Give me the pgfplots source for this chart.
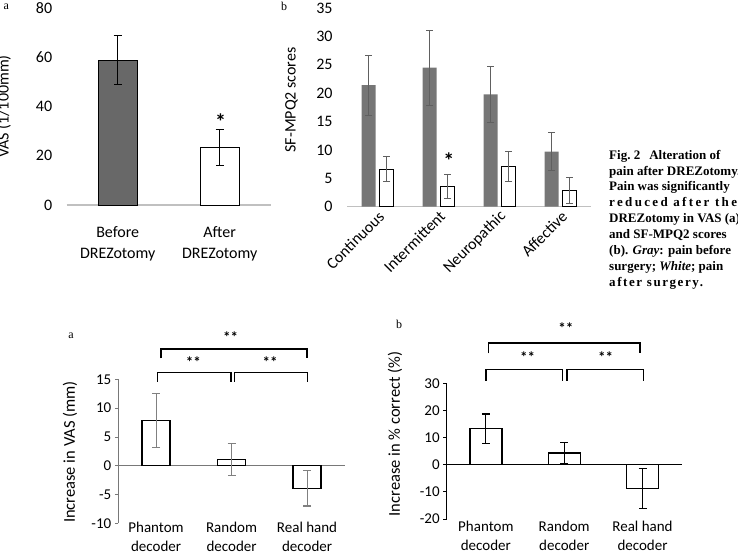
\documentclass[border=0pt]{standalone}
\usepackage{pgfplots}
\usepackage{pgfplotstable}
\pgfplotsset{compat=1.18}
\usepackage{fontspec}
\setmainfont{Carlito}
\newfontfamily\capfont{Liberation Serif}

\definecolor{darkbar}{RGB}{104,104,104}
\definecolor{midbar}{RGB}{118,118,118}
\definecolor{baseln}{RGB}{192,192,192}
\definecolor{errgray}{RGB}{128,128,128}
\definecolor{axgray}{RGB}{120,120,120}

% SF-MPQ2 subscales: mean and error, before / after surgery
\pgfplotstableread{
x  before eb    after ea
1  21.4   5.3   6.6   2.2
2  24.5   6.6   3.6   2.1
3  19.8   4.95  7.1   2.65
4  9.7    3.35  2.8   2.3
}\mpqdata

\pgfplotsset{
  panel/.style={scale only axis, anchor=south west, clip=false,
    /pgf/number format/assume math mode=true,
    axis line style={-}, xtick style={draw=none}},
  errs/.style n args={3}{error bars/.cd, y dir=both, y explicit,
    error bar style={#1, line width=#2},
    error mark options={#1, line width=#2, mark size=#3, rotate=90}},
}
\tikzset{
  caplines/.style={anchor=base west, inner sep=0pt,
    font=\capfont\bfseries\fontsize{13}{16}\selectfont},
  brk/.style={line width=1.6pt, black},
  stars/.style={inner sep=0pt, font=\bfseries\fontsize{15}{15}\selectfont},
}

\begin{document}
\begin{tikzpicture}

% ---------- VAS before / after DREZotomy ----------
\begin{axis}[panel,
  at={(66.7pt,-205pt)}, width=204pt, height=197pt,
  xmin=0.5, xmax=2.5, ymin=0, ymax=80,
  xtick={1,2}, xticklabels={Before\\DREZotomy,After\\DREZotomy},
  ytick={0,20,40,60,80},
  axis x line*=bottom, axis y line*=left,
  x axis line style={draw=baseln, line width=2pt},
  y axis line style={draw=none},
  major tick length=0pt,
  ticklabel style={font=\fontsize{16}{21}\selectfont},
  xticklabel style={align=center, yshift=-18pt},
  yticklabel style={xshift=-11pt},
]
\addplot[ybar, bar width=39pt, fill=darkbar, draw=black, line width=0.9pt,
  errs={black}{0.9pt}{4pt}]
  coordinates {(1,58.9) +- (0,9.8)};
\addplot[ybar, bar width=39pt, fill=white, draw=black, line width=0.9pt,
  errs={black}{0.9pt}{4pt}]
  coordinates {(2,23.4) +- (0,7.3)};
\node[inner sep=0pt, font=\bfseries\fontsize{22}{22}\selectfont] at (axis cs:2.01,34.0) {*};
\end{axis}

% ---------- SF-MPQ2 subscales ----------
\begin{axis}[panel,
  at={(347pt,-206.7pt)}, width=244pt, height=198.7pt,
  xmin=0.5, xmax=4.5, ymin=0, ymax=35,
  xtick={1,2,3,4}, xticklabels={Continuous,Intermittent,Neuropathic,Affective},
  ytick={0,5,...,35},
  axis x line*=bottom, axis y line*=left,
  x axis line style={draw=baseln, line width=1.5pt},
  y axis line style={draw=none},
  major tick length=0pt,
  ticklabel style={font=\fontsize{16}{19}\selectfont},
  xticklabel style={inner sep=0pt, xshift=4pt, yshift=-7pt, rotate=45, anchor=east},
  yticklabel style={xshift=-11pt},
]
\addplot[ybar, bar width=14pt, bar shift=0pt, fill=midbar, draw=none,
  errs={errgray!75!black}{0.9pt}{3.5pt}]
  table[x expr=\thisrow{x}-0.1475, y=before, y error=eb]{\mpqdata};
\addplot[ybar, bar width=14pt, bar shift=0pt, fill=white, draw=black, line width=0.9pt,
  errs={errgray!75!black}{0.9pt}{3.5pt}]
  table[x expr=\thisrow{x}+0.1475, y=after, y error=ea]{\mpqdata};
\node[inner sep=0pt, font=\bfseries\fontsize{22}{22}\selectfont] at (axis cs:2.17,8.2) {*};
\end{axis}

% ---------- VAS change by decoder ----------
\begin{axis}[panel,
  at={(118.3pt,-523.3pt)}, width=226.5pt, height=144pt,
  xmin=0.5, xmax=3.5, ymin=-10, ymax=15,
  xtick={1,2,3}, xticklabels={Phantom\\decoder,Random\\decoder,Real hand\\decoder},
  ytick={-10,-5,...,15},
  axis x line*=bottom, axis y line*=left,
  x axis line style={draw=none},
  y axis line style={draw=axgray, line width=0.8pt},
  ytick style={draw=axgray, line width=0.8pt},
  tick align=outside, major tick length=3.5pt,
  ticklabel style={font=\fontsize{15}{19}\selectfont},
  xticklabel style={align=center, yshift=8pt},
]
\draw[axgray, line width=0.8pt] (axis cs:0.5,0) -- (axis cs:3.5,0);
\addplot[ybar, bar width=28pt, fill=white, draw=black, line width=1.3pt,
  errs={errgray}{1.1pt}{4pt}]
  coordinates {(1,7.9) +- (0,4.7) (2,1.1) +- (0,2.8) (3,-3.9) +- (0,3.1)};
\end{axis}
\draw[brk] (157.3pt,-381.7pt) -- (157.3pt,-372.3pt) -- (231pt,-372.3pt) -- (231pt,-381.7pt);
\draw[brk] (234.3pt,-381.7pt) -- (234.3pt,-372.3pt) -- (307.3pt,-372.3pt) -- (307.3pt,-381.7pt);
\draw[brk] (161pt,-358.3pt) -- (161pt,-349pt) -- (306.7pt,-349pt) -- (306.7pt,-358.3pt);
\node[stars] at (193.3pt,-362pt) {**};
\node[stars] at (270pt,-362pt) {**};
\node[stars] at (230.7pt,-337pt) {**};

% ---------- decoding accuracy change by decoder ----------
\begin{axis}[panel,
  at={(446.7pt,-519pt)}, width=235pt, height=135.7pt,
  xmin=0.5, xmax=3.5, ymin=-20, ymax=30,
  xtick={1,2,3}, xticklabels={Phantom\\decoder,Random\\decoder,Real hand\\decoder},
  ytick={-20,-10,...,30},
  axis x line*=bottom, axis y line*=left,
  x axis line style={draw=none},
  y axis line style={draw=black, line width=0.8pt},
  ytick style={draw=black, line width=0.8pt},
  tick align=outside, major tick length=3.5pt,
  ticklabel style={font=\fontsize{15}{19}\selectfont},
  xticklabel style={align=center, yshift=5pt},
]
\draw[black, line width=0.8pt] (axis cs:0.5,0) -- (axis cs:3.5,0);
\addplot[ybar, bar width=32pt, fill=white, draw=black, line width=1.3pt,
  errs={black}{1.1pt}{4pt}]
  coordinates {(1,13.3) +- (0,5.4) (2,4.3) +- (0,4.0) (3,-8.85) +- (0,7.35)};
\end{axis}
\draw[brk] (485.7pt,-380.7pt) -- (485.7pt,-369.3pt) -- (562.3pt,-369.3pt) -- (562.3pt,-380.7pt);
\draw[brk] (566.7pt,-380.7pt) -- (566.7pt,-369.3pt) -- (643.3pt,-369.3pt) -- (643.3pt,-380.7pt);
\draw[brk] (488.3pt,-353.3pt) -- (488.3pt,-342.7pt) -- (640pt,-342.7pt) -- (640pt,-353.3pt);
\node[stars] at (527.7pt,-357.5pt) {**};
\node[stars] at (605.7pt,-357.5pt) {**};
\node[stars] at (565.8pt,-328.5pt) {**};

% ---------- axis titles ----------
\node[rotate=90, font=\fontsize{16}{16}\selectfont] at (4pt,-106.5pt) {VAS (1/100mm)};
\node[rotate=90, font=\fontsize{16}{16}\selectfont] at (291.5pt,-100pt) {SF-MPQ2 scores};
\node[rotate=90, font=\fontsize{16.5}{16.5}\selectfont] at (70pt,-452pt) {Increase in VAS (mm)};
\node[rotate=90, font=\fontsize{16.5}{16.5}\selectfont] at (395pt,-434pt) {Increase in \% correct (\%)};

% ---------- panel letters ----------
\begin{scope}[every node/.style={anchor=base, inner sep=0pt, font=\capfont\fontsize{12}{12}\selectfont}]
\node at (6.3pt,-10pt) {a};
\node at (284pt,-10.7pt) {b};
\node at (71pt,-338.3pt) {a};
\node at (399pt,-328.3pt) {b};
\end{scope}

% ---------- figure caption ----------
\node[caplines] at (609pt,-159.3pt) {Fig.\ 2\hspace{9pt}Alteration of};
\node[caplines] at (609pt,-175pt) {pain after DREZotomy.};
\node[caplines] at (609pt,-190.7pt) {Pain was significantly};
\node[caplines] at (609pt,-206.7pt) {\addfontfeatures{LetterSpace=18}reduced after the};
\node[caplines] at (609pt,-222.7pt) {DREZotomy in VAS (a)};
\node[caplines] at (609pt,-238.7pt) {and SF-MPQ2 scores};
\node[caplines] at (609pt,-254.3pt) {(b). \textit{Gray}: pain before};
\node[caplines] at (609pt,-270.3pt) {surgery; \textit{White}; pain};
\node[caplines] at (609pt,-286pt) {\addfontfeatures{LetterSpace=12}after surgery.};

\pgfresetboundingbox
\useasboundingbox (0pt,0pt) rectangle (738pt,-551pt);
\end{tikzpicture}
\end{document}
